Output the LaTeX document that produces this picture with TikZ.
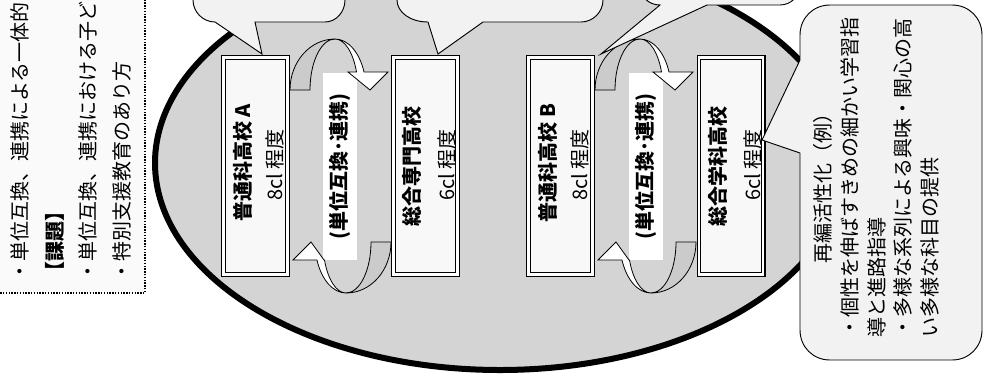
\documentclass[tikz,border=0pt]{standalone}
\usepackage{fontspec}
\setmainfont{Noto Sans CJK JP}
\definecolor{ellfill}{HTML}{D4D4D4}
\definecolor{bubfill}{HTML}{F2F2F2}
\definecolor{boxfill}{HTML}{F8F8F8}
\definecolor{notefill}{HTML}{FAFAFA}
\definecolor{backband}{HTML}{CBCBCB}
\tikzset{
 jt/.style={font=\fontsize{15pt}{18pt}\selectfont, inner sep=0pt, rotate=90},
 jb/.style={jt, font=\fontsize{15pt}{18pt}\selectfont\bfseries},
 schoolbox/.style={draw=black, line width=0.9pt, double=white, double distance=1.8pt, fill=boxfill, minimum width=48.15pt, minimum height=162.9pt, inner sep=0pt, outer sep=0pt},
 labelrect/.style={fill=white, rotate=90, minimum width=140.25pt, minimum height=25.5pt, inner sep=0pt, font=\fontsize{15pt}{18pt}\selectfont\bfseries},
 bubble/.style={draw=black, line width=0.7pt, fill=bubfill},
 bandback/.style={draw=black, line width=0.6pt, fill=backband},
 bandfront/.style={draw=black, line width=0.6pt, fill=white},
 notebox/.style={draw=black, densely dotted, line width=1.1pt, fill=notefill},
 bigell/.style={draw=black, line width=4.5pt, fill=ellfill},
}
% #1 = x of the inner base corner of the arrow head (local units)
\newcommand\myUarrow[1]{%
 \draw[bandback] (0,0) arc[start angle=180,end angle=270,x radius=45,y radius=51]
   arc[start angle=270,end angle=180,x radius=25,y radius=51] -- cycle;
 \draw[bandfront] (45,-51) arc[start angle=270,end angle=339.3,x radius=31,y radius=51]
   -- (98,-18) -- (80,0) -- (#1,-18) -- (66.5,-18)
   arc[start angle=339.3,end angle=270,x radius=23,y radius=51] -- cycle;}
\begin{document}
\begin{tikzpicture}[x=0.75pt,y=-0.75pt]
\useasboundingbox (0,0) rectangle (984,376);
\clip (0,0) rectangle (984,376);
% left note box
\draw[notebox] (-20,-20) rectangle (145,293);
\node[jt, anchor=west] (n1) at (20,282) {・単位互換、連携による一体的};
\node[jb, anchor=west] (n2) at (55,282) {【課題】};
\node[jt, anchor=west] (n3) at (88,282) {・単位互換、連携における子ど};
\node[jt, anchor=west] (n4) at (122,282) {・特別支援教育のあり方};
% big ellipse
\draw[bigell] (500,163) ellipse [x radius=345, y radius=207];
% school boxes
\node[schoolbox] (A) at (255.5,166) {};
\node[schoolbox] (SA) at (425.5,166) {};
\node[schoolbox] (B) at (560.5,166) {};
\node[schoolbox] (SB) at (731,166) {};
\node[jb] (At1) at (243,163) {普通科高校 A};
\node[jt] (At2) at (275,165) {8cl 程度};
\node[jb] (SAt1) at (412,166) {総合専門高校};
\node[jt] (SAt2) at (447,165) {6cl 程度};
\node[jb] (Bt1) at (548,163) {普通科高校 B};
\node[jt] (Bt2) at (580,165) {8cl 程度};
\node[jb] (SBt1) at (718,166) {総合学科高校};
\node[jt] (SBt2) at (753,165) {6cl 程度};
% label rectangles
\node[labelrect] (LA) at (340,166.5) {(単位互換･連携)};
\node[labelrect] (LB) at (646,166.5) {(単位互換･連携)};
% curved arrows (A pair, then B pair)
\begin{scope}[shift={(290,90)}]\myUarrow{58}\end{scope}
\begin{scope}[rotate around={180:(340.5,166)}]\begin{scope}[shift={(290,90)}]\myUarrow{67}\end{scope}\end{scope}
\begin{scope}[shift={(305,0)}]
 \begin{scope}[shift={(290,90)}]\myUarrow{58}\end{scope}
 \begin{scope}[rotate around={180:(340.5,166)}]\begin{scope}[shift={(290,90)}]\myUarrow{67}\end{scope}\end{scope}
\end{scope}
% callouts
\draw[bubble] (193,-60) -- (193,0) .. controls (193,12) and (203,22) .. (215,22) -- (262,54) -- (255,22) -- (325,22) .. controls (336,22) and (345,12) .. (345,0) -- (345,-60) -- cycle;
\draw[bubble] (397,-60) -- (397,0) .. controls (397,12) and (410,22) .. (428,22) -- (438,54) -- (483,22) -- (581,22) .. controls (593,22) and (603,12) .. (603,0) -- (603,-60) -- cycle;
\draw[bubble] (640,-60) -- (640,-15) .. controls (640,-4) and (648,5) .. (660,5) -- (601,54) -- (707,5) -- (780,5) .. controls (791,5) and (800,-4) .. (800,-15) -- (800,-60) -- cycle;
\draw[bubble] (830,5) -- (952,5) .. controls (969,5) and (982,18) .. (982,35) -- (982,330) .. controls (982,347) and (969,360) .. (952,360) -- (830,360) .. controls (813,360) and (800,347) .. (800,330) -- (800,153) -- (762,140) -- (800,60) -- (800,35) .. controls (800,18) and (813,5) .. (830,5) -- cycle;
\node[jt] (c1) at (823,183) {再編活性化（例）};
\node[jt, anchor=west] (c2) at (850,338) {・個性を伸ばすきめの細かい学習指};
\node[jt, anchor=west] (c3) at (877,338) {導と進路指導};
\node[jt, anchor=west] (c4) at (903,338) {・多様な系列による興味・関心の高};
\node[jt, anchor=west] (c5) at (930,338) {い多様な科目の提供};
\end{tikzpicture}
\end{document}
